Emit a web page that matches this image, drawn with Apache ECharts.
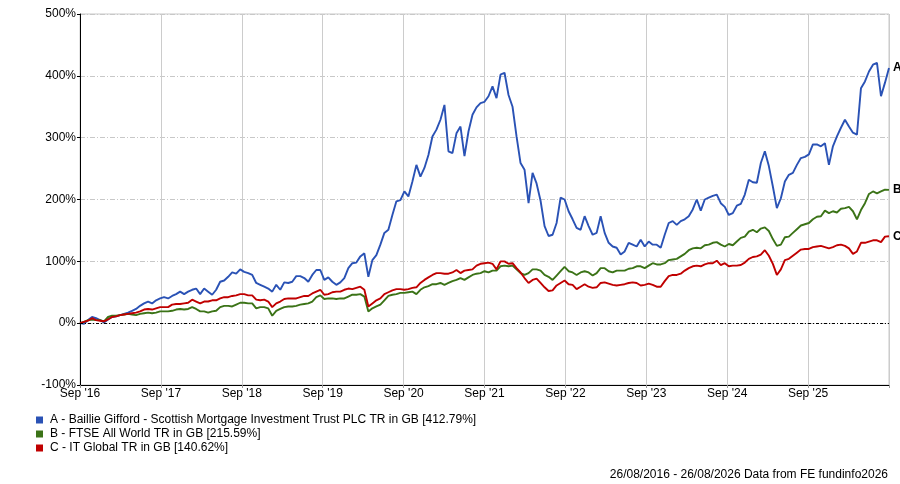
<!DOCTYPE html>
<html>
<head>
<meta charset="utf-8">
<script src="https://cdn.jsdelivr.net/npm/echarts@6/dist/echarts.min.js"></script>
<style>
html,body{margin:0;padding:0;background:#fff;}
#chart{width:900px;height:484px;}
</style>
</head>
<body>
<div id="chart"></div>
<script>
// X axis tick labels (one per year, Sep 2016 .. Sep 2025)
const xTickLabels = ["Sep '16","Sep '17","Sep '18","Sep '19","Sep '20","Sep '21","Sep '22","Sep '23","Sep '24","Sep '25"];
// Period covered (years), points are evenly spaced over it
const spanYears = 10;
const footerText = "26/08/2016 - 26/08/2026 Data from FE fundinfo2026";

const seriesNames = [
  "A - Baillie Gifford - Scottish Mortgage Investment Trust PLC TR in GB [412.79%]",
  "B - FTSE All World TR in GB [215.59%]",
  "C - IT Global TR in GB [140.62%]"
];
const endLetters = ["A", "B", "C"];

// Cumulative total return, %
const fundA = [
  0,-1,5,10,8,5,1,6,10,11,
  13,15,17,20,23,28,32,35,32,37,
  40,42,40,44,47,51,47,51,54,56,
  47,56,51,46,54,67,69,75,82,80,
  87,83,81,78,65,62,59,56,51,62,
  54,66,65,67,76,76,73,67,78,86,
  86,70,74,67,62,66,73,89,97,98,
  108,113,75,102,110,127,146,151,175,197,
  199,213,205,229,256,237,251,272,302,313,
  329,353,278,275,307,318,270,310,337,349,
  356,358,367,383,364,402,405,369,350,302,
  259,248,194,243,226,198,157,141,143,162,
  203,200,181,168,154,151,173,157,143,146,
  173,146,130,124,122,111,116,130,127,124,
  135,124,132,127,127,122,143,162,165,159,
  165,168,173,184,200,182,200,203,206,208,
  194,188,175,178,190,193,208,232,228,227,
  259,278,254,221,186,202,229,240,243,256,
  267,269,273,289,289,286,291,256,286,302,
  316,329,318,308,305,380,391,407,418,421,
  367,389,412.79
];
const indexB = [
  0,2,5,6,5,5,3,10,12,12,
  13,14,15,14,13,15,16,17,16,17,
  19,19,19,20,22,23,22,23,26,23,
  19,19,17,19,20,26,28,28,27,30,
  33,33,32,32,24,26,26,24,12,20,
  23,26,27,27,28,30,31,32,35,42,
  45,39,40,40,39,40,40,43,46,46,
  47,43,19,24,27,30,37,44,46,47,
  49,49,50,51,47,54,58,60,63,63,
  65,62,65,68,70,73,70,74,78,80,
  81,84,82,85,85,92,93,92,93,87,
  81,78,81,87,87,85,78,75,70,77,
  84,91,84,82,78,82,84,82,77,81,
  89,89,84,82,85,85,85,88,89,92,
  92,89,93,97,95,95,97,102,103,104,
  108,112,118,121,122,121,126,127,130,131,
  127,124,128,126,132,138,140,148,151,147,
  153,155,149,136,125,127,139,140,146,152,
  158,160,162,168,172,173,182,178,181,179,
  185,186,188,181,168,183,194,209,213,210,
  213,216,215.59
];
const sectorC = [
  0,2,4,8,5,4,3,6,10,11,
  13,14,15,16,17,19,22,23,22,24,
  26,26,26,30,31,31,32,33,38,35,
  32,35,35,37,37,40,42,42,44,45,
  47,47,45,45,38,37,38,35,26,32,
  35,39,40,40,40,42,44,44,48,51,
  54,46,47,50,51,51,54,56,55,57,
  59,54,27,32,37,40,47,50,53,55,
  55,54,55,57,58,65,70,74,78,81,
  81,80,80,82,86,81,85,86,87,93,
  96,97,98,96,87,100,100,96,97,89,
  82,73,65,70,72,65,58,52,53,61,
  65,69,63,62,55,59,63,59,57,58,
  65,66,64,62,61,62,63,65,66,65,
  61,62,64,62,59,59,68,76,78,78,
  80,85,89,92,93,92,95,97,97,101,
  94,97,92,93,93,94,98,104,107,108,
  111,118,109,96,78,87,102,104,109,114,
  119,120,120,123,124,125,123,121,123,126,
  127,125,121,112,116,130,130,132,134,134,
  131,140,140.62
];

const colors = ["#2a52b5", "#3b7317", "#c00000"];
const FONT = '"Liberation Sans", Arial, Helvetica, sans-serif';

const toPairs = arr => arr.map((v, i) => [i * spanYears / (arr.length - 1), v]);

const chart = echarts.init(document.getElementById('chart'), null, {renderer: 'canvas'});

function makeSeries(idx, values, extra) {
  return Object.assign({
    name: seriesNames[idx],
    type: 'line',
    data: toPairs(values),
    showSymbol: false,
    symbol: 'none',
    smooth: false,
    color: colors[idx],
    lineStyle: {color: colors[idx], width: 1.9},
    endLabel: {
      show: true,
      formatter: () => endLetters[idx],
      color: '#000',
      fontSize: 12,
      fontWeight: 'bold',
      fontFamily: FONT,
      distance: 4
    },
    emphasis: {disabled: true},
    silent: true
  }, extra || {});
}

const option = {
  animation: false,
  backgroundColor: '#ffffff',
  textStyle: {fontFamily: FONT},
  grid: {
    left: 80, right: 11, top: 14, bottom: 99,
    show: true, borderColor: '#c8c8c8', borderWidth: 1, backgroundColor: 'transparent'
  },
  xAxis: {
    type: 'value',
    min: 0, max: spanYears, interval: 1,
    axisLine: {show: true, onZero: false, lineStyle: {color: '#000', width: 1}},
    axisTick: {show: true, length: 3, lineStyle: {color: '#999'}},
    axisLabel: {
      formatter: v => (xTickLabels[Math.round(v)] !== undefined && Math.abs(v - Math.round(v)) < 1e-6) ? xTickLabels[Math.round(v)] : '',
      color: '#000', fontSize: 12, margin: 3, fontFamily: FONT,
      showMinLabel: true, showMaxLabel: true
    },
    splitLine: {show: true, lineStyle: {color: '#cccccc', width: 1}}
  },
  yAxis: {
    type: 'value',
    min: -100, max: 500, interval: 100,
    axisLine: {show: true, lineStyle: {color: '#000', width: 1}},
    axisTick: {show: true, length: 3, lineStyle: {color: '#000'}},
    axisLabel: {formatter: '{value}%', color: '#000', fontSize: 12, margin: 4, fontFamily: FONT},
    splitLine: {show: true, lineStyle: {color: '#c8c8c8', width: 1, type: [5, 2, 1, 2]}}
  },
  legend: {
    orient: 'vertical',
    left: 36, top: 413,
    padding: 0,
    itemWidth: 7, itemHeight: 7, itemGap: 0,
    icon: 'rect',
    selectedMode: false,
    textStyle: {fontSize: 12, color: '#000', lineHeight: 14, padding: [0, 0, 0, 2], fontFamily: FONT},
    data: seriesNames.map((n, i) => ({name: n, itemStyle: {color: colors[i]}}))
  },
  graphic: [{
    type: 'text',
    right: 12, top: 469,
    style: {text: footerText, fill: '#000', font: '12px ' + FONT}
  }],
  series: [
    makeSeries(0, fundA, {
      markLine: {
        silent: true,
        symbol: 'none',
        label: {show: false},
        lineStyle: {color: '#000', width: 1, type: [3, 2, 1, 2]},
        data: [{yAxis: 0}]
      }
    }),
    makeSeries(1, indexB),
    makeSeries(2, sectorC)
  ]
};

chart.setOption(option);
</script>
</body>
</html>
